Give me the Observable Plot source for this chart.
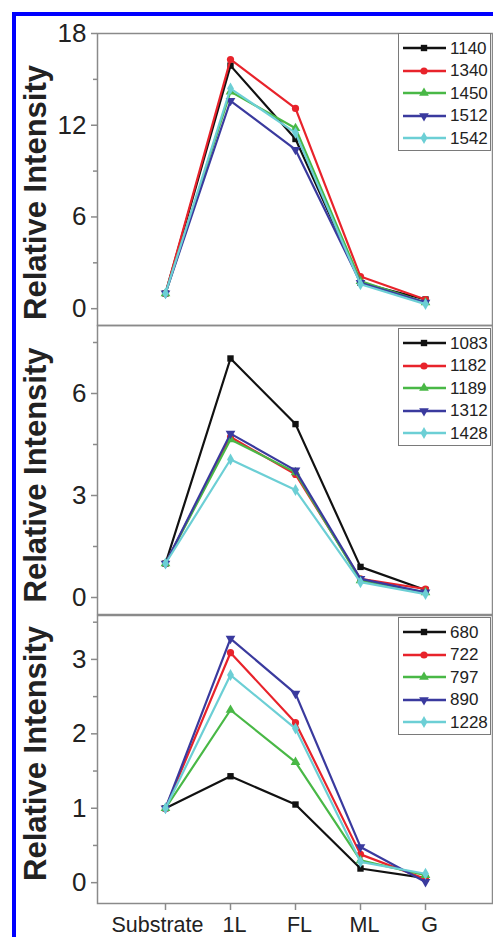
<!DOCTYPE html>
<html>
<head>
<meta charset="utf-8">
<script src="https://cdn.jsdelivr.net/npm/d3@7"></script>
<script src="https://cdn.jsdelivr.net/npm/@observablehq/plot@0.6"></script>
<style>
  html, body { margin: 0; padding: 0; background: #fff; }
  #root { position: relative; width: 493px; height: 937px; overflow: hidden; background: #fff;
          font-family: "Liberation Sans", Arial, sans-serif; }
  #border { position: absolute; left: 12px; top: 12px; width: 490px; height: 940px;
            border-top: 4.5px solid #0000ff; border-left: 4.5px solid #0000ff; box-sizing: border-box; }
  .panel { position: absolute; left: 0; }
  .legend { position: absolute; left: 398px; width: 93px; background: #fff;
            border: 1.5px solid #7a7a7a; box-sizing: border-box; padding-top: 3px; }
  .legend .row { display: flex; align-items: center; height: 22.5px; }
  .legend .row span { font-size: 17px; color: #222; margin-left: 1px; line-height: 1; }
</style>
</head>
<body>
<div id="root"><div id="border"></div></div>
<script>
// ---------- data ----------
const categories = ["Substrate", "1L", "FL", "ML", "G"];
const yLabel = "Relative Intensity";

const series1 = ["1140", "1340", "1450", "1512", "1542"];
const values1 = [
  [1, 15.9, 11.1, 1.7, 0.6],
  [1, 16.3, 13.1, 2.1, 0.6],
  [1, 14.2, 11.8, 1.8, 0.4],
  [1, 13.6, 10.4, 1.7, 0.4],
  [1, 14.4, 11.5, 1.6, 0.3]
];
const major1 = [0, 6, 12, 18];
const minor1 = [3, 9, 15];

const series2 = ["1083", "1182", "1189", "1312", "1428"];
const values2 = [
  [1, 7.03, 5.1, 0.9, 0.22],
  [1, 4.72, 3.62, 0.55, 0.25],
  [1, 4.65, 3.68, 0.5, 0.15],
  [1, 4.82, 3.74, 0.55, 0.15],
  [1, 4.06, 3.16, 0.45, 0.1]
];
const major2 = [0, 3, 6];
const minor2 = [1.5, 4.5, 7.5];

const series3 = ["680", "722", "797", "890", "1228"];
const values3 = [
  [1, 1.43, 1.05, 0.19, 0.06],
  [1, 3.09, 2.15, 0.38, 0.05],
  [1, 2.32, 1.62, 0.3, 0.1],
  [1, 3.28, 2.54, 0.48, 0.01],
  [1, 2.79, 2.07, 0.28, 0.12]
];
const major3 = [0, 1, 2, 3];
const minor3 = [0.5, 1.5, 2.5, 3.5];

// ---------- styles ----------
const colors = ["#111111", "#e8232b", "#49b846", "#3a3a9e", "#6ccfd5"];
const triangleDown = {
  draw(context, size) {
    const y = -Math.sqrt(size / (Math.sqrt(3) * 3));
    context.moveTo(0, -y * 2);
    context.lineTo(-Math.sqrt(3) * y, y);
    context.lineTo(Math.sqrt(3) * y, y);
    context.closePath();
  }
};
const symbols = [d3.symbolSquare, d3.symbolCircle, d3.symbolTriangle, triangleDown, d3.symbolDiamond];
const gray = "#8a8a8a";
const R = 3.6;

const root = document.getElementById("root");

function panel({series, values, yDomain, major, minor, top, height, marginTop, marginBottom, showX, labelDy, legendTop}) {
  const marks = [
    Plot.frame({stroke: gray, strokeWidth: 1.5}),
    Plot.axisY(major, {tickSize: 6, tickPadding: 5, fontSize: 26, stroke: gray, strokeWidth: 1.5, fill: "#222",
                       tickFormat: d => String(d), label: null}),
    Plot.axisY(minor, {tickSize: 4, text: null, stroke: gray, strokeWidth: 1.5, label: null}),
    Plot.text([yLabel], {text: d => d, frameAnchor: "left", textAnchor: "middle", lineAnchor: "middle",
                         rotate: -90, dx: -61, dy: labelDy,
                         fontSize: 31, fontWeight: "bold", fill: "#222"})
  ];
  if (showX) {
    marks.push(
      Plot.axisX({tickSize: 7, text: null, stroke: gray, strokeWidth: 1.5, label: null}),
      Plot.axisX(categories.slice(0, 1), {tickSize: 0, tickPadding: 13, dx: -8, fontSize: 21.5, fill: "#222", label: null}),
      Plot.axisX(categories.slice(1), {tickSize: 0, tickPadding: 13, dx: 4, fontSize: 21.5, fill: "#222", label: null})
    );
  }
  series.forEach((s, i) => {
    const rows = categories.map((c, j) => ({cat: c, value: values[i][j]}));
    marks.push(
      Plot.line(rows, {x: "cat", y: "value", stroke: colors[i], strokeWidth: 2.2}),
      Plot.dot(rows, {x: "cat", y: "value", fill: colors[i], symbol: symbols[i], r: R})
    );
  });
  const svg = Plot.plot({
    width: 493, height, marginLeft: 97, marginRight: 1, marginTop, marginBottom,
    x: {type: "point", domain: categories, padding: 1, axis: null},
    y: {domain: yDomain, axis: null},
    style: {background: "transparent", overflow: "visible", fontFamily: "'Liberation Sans', Arial, sans-serif"},
    marks
  });
  const wrap = document.createElement("div");
  wrap.className = "panel";
  wrap.style.top = top + "px";
  wrap.appendChild(svg);
  root.appendChild(wrap);

  // legend
  const lg = document.createElement("div");
  lg.className = "legend";
  lg.style.top = legendTop + "px";
  series.forEach((s, i) => {
    const row = document.createElement("div");
    row.className = "row";
    const sw = d3.create("svg").attr("width", 50).attr("height", 22);
    sw.append("line").attr("x1", 4).attr("x2", 47).attr("y1", 11).attr("y2", 11)
      .attr("stroke", colors[i]).attr("stroke-width", 2.5);
    sw.append("path").attr("d", d3.symbol(symbols[i], Math.PI * R * R)())
      .attr("transform", "translate(25,11)").attr("fill", colors[i]);
    row.appendChild(sw.node());
    const t = document.createElement("span");
    t.textContent = s;
    row.appendChild(t);
    lg.appendChild(row);
  });
  root.appendChild(lg);
}

panel({series: series1, values: values1, yDomain: [-1.1, 18], major: major1, minor: minor1,
       top: 0, height: 326, marginTop: 33, marginBottom: 1, showX: false, labelDy: 13, legendTop: 33});
panel({series: series2, values: values2, yDomain: [-0.5, 8], major: major2, minor: minor2,
       top: 320, height: 295, marginTop: 5, marginBottom: 1, showX: false, labelDy: 5, legendTop: 328});
panel({series: series3, values: values3, yDomain: [-0.28, 3.59], major: major3, minor: minor3,
       top: 600, height: 337, marginTop: 15, marginBottom: 34, showX: true, labelDy: -6, legendTop: 617});
</script>
</body>
</html>
